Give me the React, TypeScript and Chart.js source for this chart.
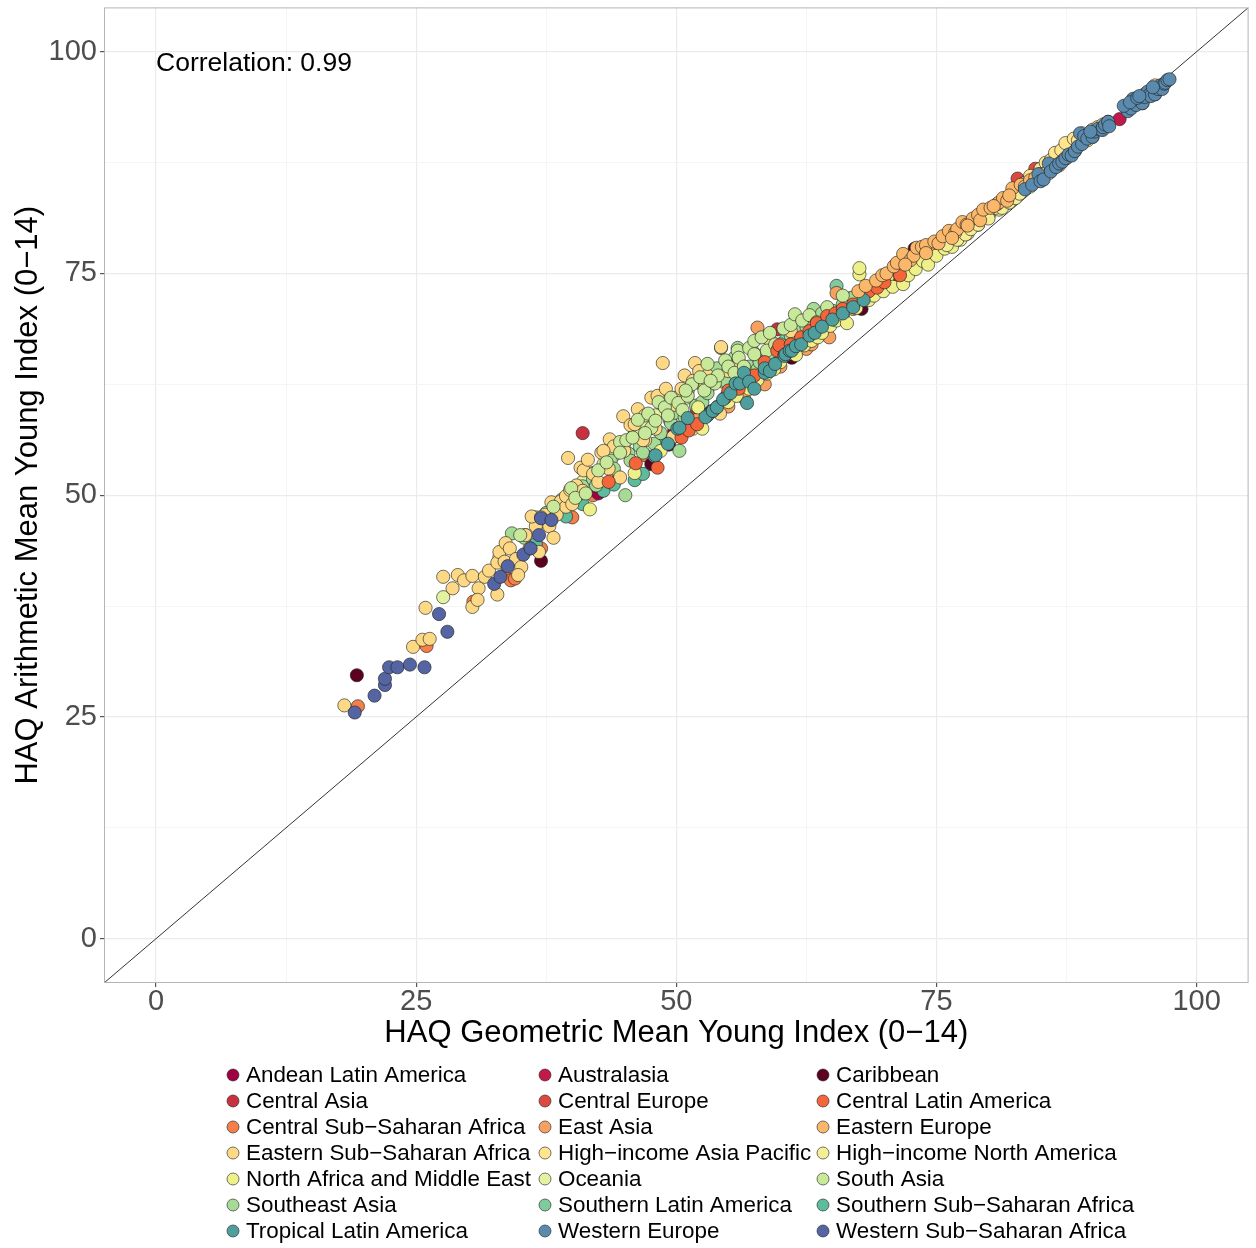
import React, { useEffect, useRef } from "react";
import { Chart, registerables } from "chart.js";

Chart.register(...registerables);

const regionNames = [
  "Andean Latin America", "Australasia", "Caribbean",
  "Central Asia", "Central Europe", "Central Latin America",
  "Central Sub\u2212Saharan Africa", "East Asia", "Eastern Europe",
  "Eastern Sub\u2212Saharan Africa", "High\u2212income Asia Pacific", "High\u2212income North America",
  "North Africa and Middle East", "Oceania", "South Asia",
  "Southeast Asia", "Southern Latin America", "Southern Sub\u2212Saharan Africa",
  "Tropical Latin America", "Western Europe", "Western Sub\u2212Saharan Africa",
];

const regionColors = [
  "#9E0142", "#C2184A", "#5C0122",
  "#C8323F", "#DA4A3F", "#F4653A",
  "#F47F48", "#F8A060", "#FBB86A",
  "#FDD985", "#FEE58E", "#F6EE95",
  "#EEF08A", "#E2F2A0", "#C8E99A",
  "#A5DB95", "#7FCB9D", "#5DBB9E",
  "#4E9E9E", "#5A8AAD", "#5565A4",
];

// drawing rank (1 = drawn on top)
const drawRank = [17, 21, 16, 15, 13, 7, 19, 12, 3, 10, 5, 4, 8, 18, 9, 11, 20, 14, 6, 2, 1];

const andean = [[42.5,50.2],[49.8,57.2],[53.2,59.4],[55.0,61.5],[58.5,64.5],[60.5,66.5],[63.0,68.2],[65.5,70.5],[68.0,72.5],[70.5,74.5],[72.0,75.6]];
const australasia = [[88.3,88.8],[90.0,90.4],[91.5,92.1],[92.6,92.4],[94.8,94.2],[96.0,95.2]];
const caribbean = [[19.3,29.7],[37.0,42.6],[47.6,53.5],[49.3,55.7],[53.0,59.0],[56.0,62.2],[59.7,65.5],[61.1,65.5],[64.0,69.0],[67.8,71.0],[70.0,73.5],[72.9,77.8],[76.0,78.5],[80.0,82.0],[85.0,86.5]];
const centralAsia = [[41.0,57.0],[52.0,59.5],[55.5,62.0],[57.0,63.5],[58.5,64.8],[59.7,68.7],[61.0,66.5],[62.5,67.5],[63.5,68.0],[64.5,70.0],[66.7,72.2],[68.0,72.0],[69.5,73.5],[71.0,75.0],[72.5,76.0],[74.0,77.0]];
const centralEurope = [[68.0,73.0],[70.0,74.5],[71.0,75.0],[72.0,75.5],[73.5,77.0],[74.3,77.5],[75.0,78.0],[76.5,78.8],[77.5,80.0],[78.5,80.5],[79.3,81.2],[80.0,81.5],[81.0,82.5],[82.0,83.5],[82.8,85.7],[83.5,85.2],[84.5,86.8],[85.5,87.0],[86.5,87.5]];
const centralLatAm = [[43.5,51.5],[46.1,53.6],[48.2,53.1],[50.5,56.5],[51.2,57.3],[52.0,58.0],[53.5,59.5],[54.7,61.0],[55.0,61.8],[56.0,62.0],[56.5,63.0],[57.5,63.5],[58.5,65.0],[59.7,66.3],[59.9,66.9],[60.4,65.8],[61.0,67.0],[62.0,67.8],[62.8,68.5],[63.5,69.4],[64.5,70.2],[65.3,70.5],[66.0,71.0],[67.0,71.5],[68.5,73.0],[69.3,73.4],[70.0,74.0],[71.5,74.8]];
const centralSSA = [[19.4,26.2],[26.0,33.0],[30.5,38.0],[33.5,41.0],[34.1,40.4],[34.5,40.6],[37.0,44.0],[40.0,47.5],[42.0,50.0],[44.5,52.0],[47.0,54.5],[50.0,57.0]];
const eastAsia = [[52.0,58.5],[55.0,60.0],[56.5,61.0],[57.8,68.9],[58.5,62.5],[60.0,64.5],[62.5,66.5],[63.0,67.0],[64.7,67.8],[65.4,72.8],[67.0,71.0],[68.5,72.4],[70.0,73.5],[72.5,75.5],[75.0,77.5],[76.5,78.8],[78.0,80.0],[80.0,81.8],[82.0,83.5],[85.5,86.5],[88.0,88.8]];
const easternEurope = [[67.5,73.0],[68.2,73.6],[69.2,74.2],[69.8,74.8],[70.2,75.0],[70.9,75.8],[71.2,76.2],[71.8,77.2],[72.5,76.5],[72.8,77.0],[73.1,77.9],[73.6,78.0],[74.0,78.2],[74.8,78.6],[75.2,78.4],[75.6,79.2],[76.2,79.8],[76.8,79.6],[77.0,80.0],[77.5,80.8],[77.9,80.5],[78.5,81.2],[79.0,81.6],[79.2,81.0],[79.5,82.2],[80.2,82.4],[80.8,82.8],[81.0,83.0],[81.4,83.5],[81.8,83.2],[82.3,84.6],[83.1,85.0],[83.5,84.8],[84.0,85.5],[84.5,85.8],[85.0,86.2],[85.6,86.4],[86.0,86.6],[86.8,87.2],[87.5,88.0],[72.0,76.0],[74.0,77.3],[76.5,79.0],[78.0,80.4],[80.5,82.6],[82.0,83.8]];
const easternSSA = [[18.1,26.3],[24.7,32.9],[25.6,33.7],[26.3,33.8],[25.9,37.3],[27.6,40.8],[28.5,39.5],[29.0,41.0],[29.6,40.4],[30.4,40.9],[31.0,39.5],[31.6,40.8],[30.4,37.4],[30.9,38.2],[32.0,41.5],[32.8,38.8],[32.8,42.4],[33.0,43.6],[33.5,42.5],[33.6,44.6],[34.0,44.0],[34.6,42.8],[35.1,41.9],[34.8,41.0],[35.5,45.5],[35.9,44.0],[36.5,46.5],[36.8,43.6],[36.1,47.6],[37.4,47.8],[37.8,46.5],[38.2,45.2],[38.0,49.2],[38.5,47.8],[38.9,49.3],[39.4,48.7],[39.4,49.9],[39.8,50.6],[40.0,49.0],[40.4,51.1],[39.6,54.2],[40.8,53.1],[41.0,50.5],[41.1,52.8],[42.0,52.4],[42.5,51.5],[42.8,54.8],[43.5,53.0],[43.6,56.3],[44.0,55.5],[44.9,58.9],[45.0,55.0],[45.6,57.9],[46.0,58.0],[46.3,59.7],[47.0,59.0],[47.6,61.0],[48.0,57.5],[48.2,61.2],[44.6,52.0],[47.0,56.2],[49.0,62.0],[49.8,60.2],[49.7,56.6],[50.0,61.0],[50.8,63.5],[51.6,62.9],[51.8,64.9],[52.2,64.0],[52.8,62.5],[48.7,64.9],[54.3,66.7],[54.2,59.2],[46.8,56.2],[43.0,55.0],[41.5,54.0],[50.5,62.0],[53.0,63.5],[55.0,64.0],[56.0,65.0],[57.5,66.0],[59.0,67.5],[61.0,68.5]];
const hiAsiaPacific = [[82.5,84.5],[83.5,85.2],[84.0,86.0],[85.0,86.8],[85.5,87.5],[86.0,87.8],[86.4,88.6],[87.0,88.9],[87.4,89.7],[88.2,90.2],[88.6,90.0],[89.0,90.8],[89.5,90.6],[90.0,91.2],[90.5,91.5],[91.0,91.8],[93.5,93.8],[94.0,94.6],[94.5,94.8],[95.0,95.2],[96.0,96.2]];
const hiNorthAmerica = [[76.0,78.2],[77.0,78.8],[77.8,79.4],[78.3,80.0],[79.0,80.5],[80.0,81.2],[80.7,82.4],[81.3,82.4],[82.0,83.0],[82.6,83.5],[83.0,84.0],[84.0,84.8],[85.0,85.8],[85.8,86.3],[86.5,87.2],[87.2,87.8],[88.0,88.5],[89.5,90.0],[91.0,91.2]];
const nAfricaME = [[41.7,48.4],[46.0,52.5],[48.5,55.0],[51.6,57.5],[52.5,57.5],[52.1,59.9],[55.0,60.5],[55.8,61.2],[57.0,62.0],[57.8,63.0],[58.7,63.7],[59.4,64.2],[60.0,65.0],[61.0,66.0],[61.5,65.8],[62.3,66.9],[63.0,67.4],[63.6,67.8],[64.0,68.3],[64.8,69.1],[65.4,69.7],[66.0,70.3],[66.4,69.4],[67.3,71.1],[67.6,74.9],[67.6,75.6],[68.5,72.0],[69.0,72.5],[69.9,73.0],[70.3,74.6],[70.8,73.5],[71.8,73.8],[72.3,74.8],[73.0,75.5],[73.7,76.4],[74.2,76.0],[75.0,77.0],[75.8,77.8],[76.5,78.0],[77.3,78.8],[78.0,79.5],[79.0,80.5],[80.0,81.5],[81.0,82.2],[82.0,83.0],[83.0,84.3],[84.0,85.2],[85.2,86.0]];
const oceania = [[27.6,38.5],[33.0,43.0],[35.5,45.5],[37.0,47.0],[38.0,48.0],[40.0,50.5],[41.0,51.5],[42.0,52.5],[43.0,53.5],[44.0,54.5],[45.0,55.8],[46.0,57.0],[47.0,58.0],[48.0,59.0],[49.0,59.8],[50.0,60.5],[51.0,61.0],[53.0,62.0],[54.5,62.8],[56.0,63.5],[59.0,65.0],[62.0,68.0]];
const southAsia = [[35.0,45.5],[37.0,47.5],[38.2,48.7],[39.9,50.8],[40.3,49.7],[41.3,50.2],[42.5,52.8],[43.3,53.7],[44.6,56.0],[45.2,56.2],[45.8,56.5],[46.3,58.5],[47.3,59.2],[47.6,57.6],[48.0,58.4],[48.3,60.5],[48.9,59.9],[49.2,59.0],[49.5,61.0],[50.2,60.4],[50.6,59.6],[51.1,61.2],[51.5,62.5],[52.3,63.3],[52.7,61.8],[53.0,64.8],[53.7,62.6],[54.0,63.5],[54.7,65.2],[55.0,64.5],[55.9,66.3],[56.0,65.5],[57.0,66.6],[57.5,65.9],[57.5,67.4],[58.2,67.8],[58.7,66.3],[59.0,68.3],[60.3,68.8],[61.0,69.2],[61.4,70.4],[62.1,69.7],[62.8,70.3],[64.5,71.2],[66.0,72.5],[44.6,54.8],[47.0,57.0],[50.9,61.8],[53.3,62.9],[55.6,63.8],[56.5,64.5],[59.5,67.0],[63.5,69.5]];
const southeastAsia = [[34.2,45.7],[35.4,45.2],[36.5,47.5],[37.5,48.0],[39.0,49.5],[40.5,50.0],[41.0,51.0],[42.0,51.8],[42.3,51.1],[43.7,53.9],[44.0,53.0],[45.1,50.0],[45.4,54.7],[45.6,53.9],[46.5,55.5],[46.8,54.8],[47.9,55.8],[48.5,57.0],[49.4,58.4],[49.5,58.1],[49.9,59.3],[50.3,55.0],[50.8,58.8],[51.1,61.8],[51.9,60.1],[52.1,62.7],[52.5,60.5],[53.0,61.5],[53.9,64.3],[54.3,66.6],[55.4,64.0],[55.6,65.5],[55.9,66.6],[54.7,62.9],[56.2,63.2],[57.0,64.5],[57.8,64.2],[58.0,65.0],[59.0,66.0],[60.0,67.0],[61.0,68.0],[61.8,68.4],[62.5,69.0],[63.2,71.0],[64.0,70.5],[65.0,70.8],[66.0,71.5],[67.0,72.3],[68.0,73.0],[69.0,73.6],[70.0,74.5],[71.0,75.2]];
const southernLatAm = [[58.0,65.5],[60.5,67.5],[63.0,69.5],[65.4,73.6],[67.0,71.6],[70.0,73.8],[73.0,76.0],[76.0,78.4],[79.0,80.8],[82.0,83.5],[85.0,85.9]];
const southernSSA = [[36.5,44.5],[39.4,47.6],[41.0,49.0],[43.0,50.5],[44.0,51.2],[46.0,51.7],[46.8,52.4],[47.9,54.4],[48.5,55.5],[49.0,56.0],[50.0,56.7],[51.0,57.5],[52.0,58.2],[53.0,59.0],[54.0,60.0],[55.0,61.0],[57.0,63.0],[59.0,65.0],[61.0,67.0]];
const tropicalLatAm = [[48.0,54.5],[49.2,55.8],[50.1,57.5],[50.3,57.6],[51.1,58.7],[52.8,58.8],[53.5,59.5],[53.9,59.9],[54.5,60.8],[55.2,61.5],[55.7,62.6],[56.1,62.6],[56.5,63.8],[56.8,60.4],[57.0,62.8],[57.5,62.0],[58.5,63.8],[58.5,64.3],[59.0,64.0],[59.5,64.8],[60.4,65.7],[60.5,65.9],[60.9,66.3],[61.1,66.3],[61.5,66.8],[62.0,67.0],[62.8,68.0],[63.3,68.3],[64.0,69.0],[65.0,69.8],[66.0,70.5],[67.0,71.2],[68.0,72.0]];
const westernEurope = [[83.5,84.5],[84.2,85.0],[84.8,86.2],[85.0,85.4],[85.3,85.6],[85.8,87.4],[86.0,86.5],[86.5,87.0],[86.8,87.4],[87.1,87.6],[87.4,88.0],[87.7,88.4],[88.0,88.3],[88.3,88.8],[88.6,89.3],[88.8,90.8],[89.0,89.6],[89.2,90.5],[89.5,90.2],[90.0,90.4],[90.2,91.0],[90.5,91.3],[90.9,91.2],[91.0,91.5],[91.2,91.8],[91.5,92.1],[91.6,91.6],[93.4,93.3],[93.7,93.6],[93.9,94.7],[94.0,94.2],[94.2,94.0],[94.6,94.5],[94.8,94.2],[95.0,94.9],[95.3,95.5],[95.5,95.2],[95.6,95.0],[96.0,95.2],[96.3,95.8],[96.5,96.2],[96.7,95.8],[96.9,96.4],[97.0,96.5],[97.2,96.8],[97.4,96.9],[89.8,91.0],[93.0,93.9],[93.6,94.3],[94.3,94.8],[94.5,95.0],[95.8,96.0]];
const westernSSA = [[19.1,25.5],[21.0,27.4],[22.0,28.6],[22.0,29.3],[22.4,30.6],[23.2,30.6],[24.4,30.9],[25.8,30.6],[27.2,36.6],[28.0,34.6],[32.5,40.0],[33.1,40.8],[33.8,42.0],[35.3,43.3],[36.0,44.0],[36.8,45.5],[37.0,47.4],[38.0,47.2]];

const regionData = [
  andean, australasia, caribbean,
  centralAsia, centralEurope, centralLatAm,
  centralSSA, eastAsia, easternEurope,
  easternSSA, hiAsiaPacific, hiNorthAmerica,
  nAfricaME, oceania, southAsia,
  southeastAsia, southernLatAm, southernSSA,
  tropicalLatAm, westernEurope, westernSSA,
];

const axisMin = -5;
const axisMax = 105;
const gridValues = [0, 12.5, 25, 37.5, 50, 62.5, 75, 87.5, 100];
const labelledTicks = [0, 25, 50, 75, 100];
const identityLine = [[-5, -5], [105, 105]];
const correlationLabel = "Correlation: 0.99";
const correlationPos = [0, 98.7];
const xTitle = "HAQ Geometric Mean Young Index (0\u221214)";
const yTitle = "HAQ Arithmetic Mean Young Index (0\u221214)";

const FONT = '"Liberation Sans", Arial, Helvetica, sans-serif';

const decorPlugin = {
  id: "decor",
  afterDraw(chart: any) {
    const { ctx, chartArea: ca, scales } = chart;
    ctx.save();
    ctx.strokeStyle = "#b5b5b5";
    ctx.lineWidth = 1;
    ctx.strokeRect(ca.left + 0.5, ca.top + 0.5, ca.right - ca.left - 1, ca.bottom - ca.top - 1);

    ctx.fillStyle = "#000";
    ctx.font = `26.5px ${FONT}`;
    ctx.textAlign = "left";
    ctx.textBaseline = "middle";
    ctx.fillText(
      correlationLabel,
      scales.x.getPixelForValue(correlationPos[0]),
      scales.y.getPixelForValue(correlationPos[1])
    );

    ctx.font = `31px ${FONT}`;
    ctx.textAlign = "center";
    ctx.fillText(xTitle, (ca.left + ca.right) / 2, ca.bottom + 50);

    ctx.save();
    ctx.translate(28, (ca.top + ca.bottom) / 2);
    ctx.rotate(-Math.PI / 2);
    ctx.fillText(yTitle, 0, 0);
    ctx.restore();

    // legend: 3 columns, row-major
    const colX = [233, 545, 823];
    const rowY0 = ca.bottom + 92;
    const rowH = 26;
    ctx.font = `22.4px ${FONT}`;
    ctx.textAlign = "left";
    ctx.textBaseline = "middle";
    regionNames.forEach((name, i) => {
      const cx = colX[i % 3];
      const cy = rowY0 + Math.floor(i / 3) * rowH;
      ctx.beginPath();
      ctx.arc(cx, cy, 6, 0, Math.PI * 2);
      ctx.fillStyle = regionColors[i];
      ctx.fill();
      ctx.lineWidth = 0.8;
      ctx.strokeStyle = "rgba(40,40,40,0.8)";
      ctx.stroke();
      ctx.fillStyle = "#000";
      ctx.fillText(name, cx + 13, cy + 1);
    });
    ctx.restore();
  },
};

function makeScale(axis: "x" | "y") {
  return {
    type: "linear",
    min: axisMin,
    max: axisMax,
    afterBuildTicks: (scale: any) => {
      scale.ticks = gridValues.map((v) => ({ value: v }));
    },
    afterFit: (scale: any) => {
      if (axis === "y") scale.width = 104;
      else scale.height = 60;
      scale.paddingTop = 0;
      scale.paddingBottom = 0;
      scale.paddingLeft = 0;
      scale.paddingRight = 0;
    },
    border: { display: false },
    grid: {
      color: (c: any) =>
        c.tick && labelledTicks.includes(c.tick.value) ? "#ebebeb" : "#f3f3f3",
      lineWidth: (c: any) => (c.tick && labelledTicks.includes(c.tick.value) ? 1.2 : 0.8),
      tickColor: (c: any) =>
        c.tick && labelledTicks.includes(c.tick.value) ? "#555" : "rgba(0,0,0,0)",
      tickLength: 4,
      drawTicks: true,
    },
    ticks: {
      autoSkip: false,
      maxRotation: 0,
      padding: axis === "y" ? 3 : 0,
      color: "#4d4d4d",
      font: { family: FONT, size: 29, lineHeight: 1 },
      callback: (v: any) => (labelledTicks.includes(v) ? String(v) : ""),
    },
  };
}

export default function App() {
  const ref = useRef<HTMLCanvasElement | null>(null);

  useEffect(() => {
    if (!ref.current) return;
    const datasets: any[] = regionData.map((arr, i) => ({
      type: "scatter",
      label: regionNames[i],
      data: arr.map(([x, y]) => ({ x, y })),
      backgroundColor: regionColors[i],
      borderColor: "rgba(35,35,35,0.8)",
      borderWidth: 0.8,
      pointRadius: 6.6,
      pointHoverRadius: 6.6,
      order: drawRank[i],
    }));
    datasets.push({
      type: "line",
      label: "identity",
      data: identityLine.map(([x, y]) => ({ x, y })),
      borderColor: "#333",
      borderWidth: 1,
      pointRadius: 0,
      showLine: true,
      fill: false,
      order: 100,
    });

    const chart = new Chart(ref.current, {
      type: "scatter",
      data: { datasets },
      options: {
        animation: false,
        responsive: false,
        maintainAspectRatio: false,
        layout: { padding: { left: 0, top: 5, right: 3, bottom: 205 } },
        plugins: { legend: { display: false }, tooltip: { enabled: false } },
        events: [],
        scales: { x: makeScale("x") as any, y: makeScale("y") as any },
      },
      plugins: [decorPlugin],
    });
    return () => chart.destroy();
  }, []);

  return (
    <div style={{ position: "absolute", left: 0, top: 0, width: 1256, height: 1248, background: "#fff" }}>
      <canvas ref={ref} width={1256} height={1248} style={{ width: 1256, height: 1248 }} />
    </div>
  );
}
